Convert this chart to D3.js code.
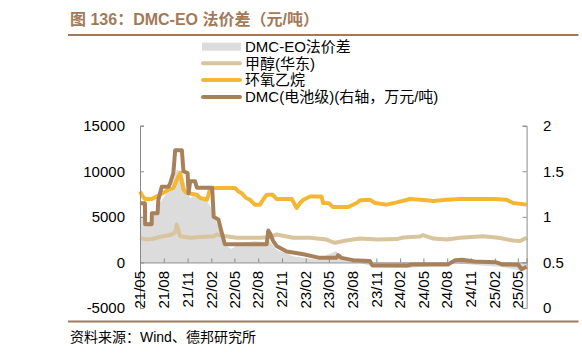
<!DOCTYPE html>
<html><head><meta charset="utf-8">
<script src="https://cdn.jsdelivr.net/npm/d3@7"></script>
<style>
html,body{margin:0;padding:0;background:#fff;}
svg{display:block;}
text{font-family:"Liberation Sans",Arial,"Noto Sans CJK SC",sans-serif;}
</style></head>
<body>
<svg id="c" width="582" height="359"></svg>
<script>
// ---------- data ----------
const xTickLabels = ["21/05","21/08","21/11","22/02","22/05","22/08","22/11","23/02","23/05","23/08","23/11","24/02","24/05","24/08","24/11","25/02","25/05"];
const leftTicks = [-5000, 0, 5000, 10000, 15000];
const rightTicks = [0, 0.5, 1, 1.5, 2];

const spreadDates = ["2021-05-01","2021-05-20","2021-06-15","2021-07-11","2021-08-06","2021-09-01","2021-09-20","2021-10-10","2021-10-29","2021-11-11","2021-11-30","2021-12-26","2022-01-15","2022-01-28","2022-02-10","2022-02-22","2022-03-06","2022-03-18","2022-04-01","2022-04-20","2022-05-29","2022-07-19","2022-08-27","2022-09-09","2022-10-11","2022-12-14","2023-03-14","2023-05-31","2023-06-19","2023-08-03","2023-09-15","2023-11-03","2024-03-01","2024-06-01","2024-09-01","2024-12-01","2025-03-01","2025-05-16","2025-06-04"];
const spreadValues = [5500,4400,4500,6150,7430,8340,10160,10000,7790,7070,7430,7070,6700,6150,5060,4330,3600,2510,1780,1500,2150,2330,2200,2510,1400,690,330,1240,300,300,-200,-500,-600,-400,-100,-300,-500,-900,-700];

const methanolDates = ["2021-05-01","2021-05-26","2021-06-20","2021-07-29","2021-08-26","2021-09-14","2021-09-20","2021-10-03","2021-11-11","2021-12-20","2022-02-10","2022-02-22","2022-03-25","2022-05-09","2022-08-08","2022-09-16","2022-10-11","2022-12-14","2023-02-18","2023-04-22","2023-05-24","2023-07-08","2023-08-30","2023-11-03","2024-01-19","2024-02-13","2024-04-18","2024-04-29","2024-06-08","2024-07-30","2024-09-20","2024-12-18","2025-02-15","2025-04-13","2025-05-10","2025-06-04"];
const methanolValues = [2700,2510,2600,2880,3000,3300,4150,2880,2700,2800,2880,3060,2900,2700,2700,2800,3060,2700,2700,2510,2150,2400,2620,2510,2560,2730,2840,3000,2620,2510,2700,2880,2700,2400,2350,2700];

const eoDates = ["2021-05-01","2021-05-12","2021-05-20","2021-06-15","2021-07-17","2021-08-19","2021-09-07","2021-09-26","2021-10-03","2021-10-16","2021-10-29","2021-12-07","2021-12-20","2022-01-15","2022-01-28","2022-05-03","2022-05-17","2022-05-29","2022-06-15","2022-06-30","2022-07-19","2022-08-08","2022-08-20","2022-09-03","2022-09-27","2022-10-11","2022-12-09","2022-12-28","2023-01-10","2023-01-23","2023-02-18","2023-04-03","2023-04-09","2023-05-01","2023-05-17","2023-07-15","2023-08-17","2023-08-30","2023-10-07","2023-10-27","2023-12-11","2024-01-19","2024-03-10","2024-05-13","2024-06-08","2024-07-30","2024-09-20","2025-01-28","2025-03-19","2025-04-13","2025-06-04"];
const eoValues = [7790,7240,6960,6960,7430,7980,8160,9430,9800,7980,7610,7430,7070,6880,8160,8160,7790,7600,7070,6880,6340,6340,6880,7430,7430,6960,6960,5970,6520,6880,7240,7240,6520,6500,6080,6080,6520,6810,6880,6520,6340,6590,6960,6810,6750,6880,6960,6960,6880,6520,6340];

const dmcDates = ["2021-05-01","2021-05-20","2021-05-21","2021-06-15","2021-06-16","2021-07-08","2021-07-11","2021-07-24","2021-08-19","2021-08-26","2021-09-07","2021-09-14","2021-10-10","2021-10-16","2021-11-01","2021-11-05","2021-11-11","2021-11-30","2021-12-07","2022-02-04","2022-02-10","2022-02-28","2022-03-12","2022-03-25","2022-09-03","2022-09-09","2022-09-16","2022-09-27","2022-10-11","2022-11-19","2023-01-23","2023-03-27","2023-05-31","2023-06-06","2023-06-19","2023-08-03","2023-10-07","2023-10-16","2024-03-03","2024-03-16","2024-08-04","2024-09-01","2024-09-27","2024-11-15","2025-02-04","2025-03-01","2025-05-03","2025-05-16","2025-06-04"];
const dmcValues = [1.15,1.15,0.92,0.92,1.04,1.04,1.19,1.33,1.33,1.37,1.48,1.73,1.73,1.50,1.48,1.26,1.39,1.39,1.32,1.32,1.00,0.97,0.84,0.70,0.70,0.85,0.82,0.74,0.68,0.62,0.59,0.55,0.55,0.58,0.55,0.525,0.515,0.467,0.467,0.477,0.477,0.525,0.53,0.51,0.503,0.478,0.475,0.424,0.453];

const legendLabels = ["DMC-EO法价差","甲醇(华东)","环氧乙烷","DMC(电池级)(右轴，万元/吨)"];
const titleText = "图 136：DMC-EO 法价差（元/吨）";
const sourceText = "资料来源：Wind、德邦研究所";

// ---------- drawing ----------
const colors = {spread:"#dcdcdc", methanol:"#d8c49d", eo:"#f5b733", dmc:"#a8815a", brand:"#a37a58", axis:"#8a8a8a"};
const svg = d3.select("#c");
const parse = d3.timeParse("%Y-%m-%d");
const parseTick = d3.timeParse("%y/%m");

const x = d3.scaleTime().domain([parse("2021-05-01"), parse("2025-06-04")]).range([140, 526.6]);
const yL = d3.scaleLinear().domain([-5000, 15000]).range([308, 125.7]);
const yR = d3.scaleLinear().domain([0, 2]).range([308, 125.7]);

const zip = (ds, vs) => ds.map((d, i) => ({d: parse(d), v: vs[i]}));
const spread = zip(spreadDates, spreadValues);
const methanol = zip(methanolDates, methanolValues);
const eo = zip(eoDates, eoValues);
const dmc = zip(dmcDates, dmcValues);

// title
svg.append("text").attr("x", 70).attr("y", 24.5).attr("fill", colors.brand)
  .attr("font-size", 16).attr("font-weight", "bold").text(titleText);
svg.append("line").attr("x1", 68).attr("x2", 578.5).attr("y1", 35).attr("y2", 35)
  .attr("stroke", colors.brand).attr("stroke-width", 2);

// area
svg.append("path").datum(spread)
  .attr("fill", colors.spread)
  .attr("d", d3.area().x(p => x(p.d)).y0(yL(0)).y1(p => yL(p.v)));

// lines
const lineL = d3.line().x(p => x(p.d)).y(p => yL(p.v));
const lineR = d3.line().x(p => x(p.d)).y(p => yR(p.v));
svg.append("path").datum(methanol).attr("fill","none").attr("stroke",colors.methanol).attr("stroke-width",4).attr("stroke-linejoin","round").attr("d", lineL);
svg.append("path").datum(eo).attr("fill","none").attr("stroke",colors.eo).attr("stroke-width",4).attr("stroke-linejoin","round").attr("d", lineL);

// axes
const axL = svg.append("g").attr("transform", `translate(${x.range()[0]},0)`)
  .call(d3.axisRight(yL).tickValues(leftTicks).tickSize(4).tickFormat(""));
const axR = svg.append("g").attr("transform", `translate(${x.range()[1]},0)`)
  .call(d3.axisLeft(yR).tickValues(rightTicks).tickSize(4).tickFormat(""));
const xTicks = xTickLabels.map(parseTick);
const axX = svg.append("g").attr("transform", `translate(0,${yL(0)})`)
  .call(d3.axisTop(x).tickValues(xTicks).tickSize(4).tickFormat(""));
[axL, axR, axX].forEach(g => {
  g.selectAll("path.domain").attr("stroke", colors.axis);
  g.selectAll(".tick line").attr("stroke", colors.axis);
});

svg.append("path").datum(dmc).attr("fill","none").attr("stroke",colors.dmc).attr("stroke-width",4).attr("stroke-linejoin","round").attr("d", lineR);

// tick labels
svg.append("g").selectAll("text").data(leftTicks).join("text")
  .attr("x", 125).attr("y", d => yL(d)).attr("dy", "0.35em").attr("text-anchor","end")
  .attr("font-size", 15).attr("fill", "#000").text(d => d);
svg.append("g").selectAll("text").data(rightTicks).join("text")
  .attr("x", 543).attr("y", d => yR(d)).attr("dy", "0.35em").attr("text-anchor","start")
  .attr("font-size", 15).attr("fill", "#000").text(d => d);
svg.append("g").selectAll("text").data(xTicks).join("text")
  .attr("transform", d => `translate(${x(d)},271) rotate(-90)`)
  .attr("dy", "0.35em").attr("text-anchor","end")
  .attr("font-size", 15).attr("fill", "#000").text((d, i) => xTickLabels[i]);

// legend
const lg = svg.append("g");
const ly = [46.7, 63.3, 80, 97];
lg.append("rect").attr("x", 202).attr("y", ly[0]-4).attr("width", 39).attr("height", 8).attr("fill", colors.spread);
[colors.methanol, colors.eo, colors.dmc].forEach((c, i) => {
  lg.append("line").attr("x1", 203).attr("x2", 240).attr("y1", ly[i+1]).attr("y2", ly[i+1])
    .attr("stroke", c).attr("stroke-width", 4).attr("stroke-linecap","round");
});
lg.selectAll("text").data(legendLabels).join("text")
  .attr("x", 245).attr("y", (d, i) => ly[i]).attr("dy","0.35em")
  .attr("font-size", 15).attr("fill", "#000").text(d => d);

// source
svg.append("line").attr("x1", 68).attr("x2", 578.5).attr("y1", 321.5).attr("y2", 321.5)
  .attr("stroke", colors.brand).attr("stroke-width", 2);
svg.append("text").attr("x", 70).attr("y", 341.5).attr("font-size", 14).attr("fill", "#000").text(sourceText);
</script>
</body></html>
